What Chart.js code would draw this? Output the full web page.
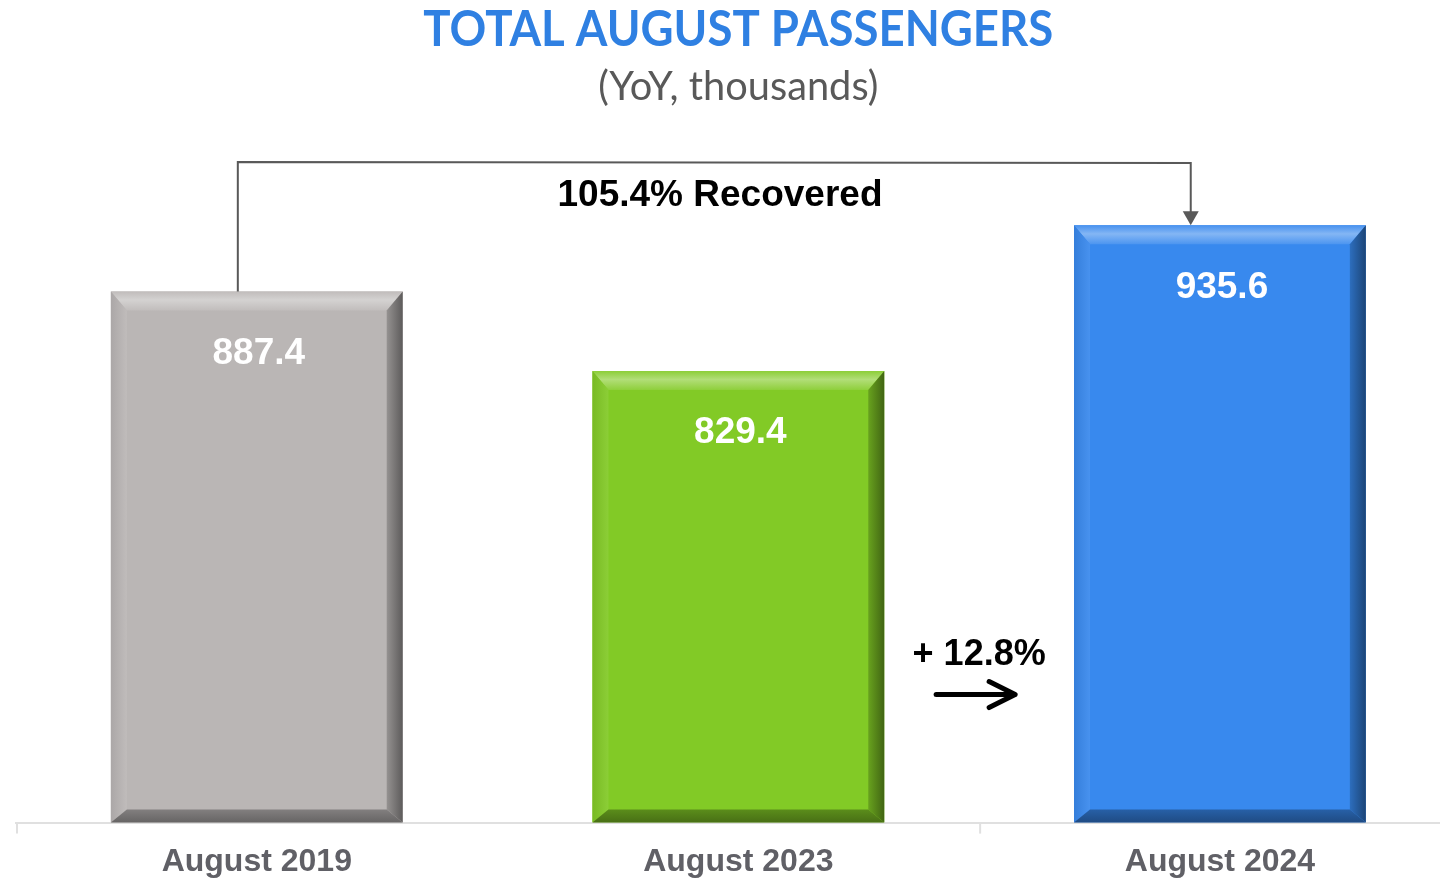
<!DOCTYPE html>
<html><head><meta charset="utf-8">
<script src="https://cdn.jsdelivr.net/npm/chart.js@4/dist/chart.umd.min.js"></script>
<style>html,body{margin:0;padding:0;background:#fff;overflow:hidden}#wrap{width:1440px;height:881px;position:relative}</style>
</head><body><div id="wrap"><canvas id="c" width="1440" height="881"></canvas></div>
<script>
const categories = ['August 2019', 'August 2023', 'August 2024'];
const passengers = [887.4, 829.4, 935.6];
const barColors = ['#bab6b5', '#82ca26', '#3889ee'];
const titleText = 'TOTAL AUGUST PASSENGERS';
const subtitleText = '(YoY, thousands)';
const yRange = [500, 1000];

function hexToRgb(h){h=h.replace('#','');return [parseInt(h.substr(0,2),16),parseInt(h.substr(2,2),16),parseInt(h.substr(4,2),16)];}
function mix(c, target, f){const a=hexToRgb(c);return 'rgb('+a.map((v,i)=>Math.round(v+(target[i]-v)*f)).join(',')+')';}
const lighten=(c,f)=>mix(c,[255,255,255],f);
const darken=(c,f)=>mix(c,[0,0,0],f);

const recovered = (passengers[2] / passengers[0] * 100).toFixed(1);
const growth = ((passengers[2] / passengers[1] - 1) * 100).toFixed(1);

const decorPlugin = {
  id: 'decor',
  afterDatasetsDraw(chart) {
    const ctx = chart.ctx;
    const meta = chart.getDatasetMeta(0);
    const xs = chart.scales.x;
    const area = chart.chartArea;
    ctx.save();
    meta.data.forEach((bar, i) => {
      const base = barColors[i];
      const L = bar.x - bar.width / 2, R = bar.x + bar.width / 2, T = bar.y, B = Math.min(bar.base, area.bottom);
      const b = 16, bt = 19, bb = 13;
      let g = ctx.createLinearGradient(0, T, 0, T + bt);
      g.addColorStop(0, lighten(base, 0.08));
      g.addColorStop(0.45, lighten(base, 0.38));
      g.addColorStop(1, lighten(base, 0.1));
      ctx.fillStyle = g;
      ctx.beginPath(); ctx.moveTo(L, T); ctx.lineTo(R, T); ctx.lineTo(R - b, T + bt); ctx.lineTo(L + b, T + bt); ctx.closePath(); ctx.fill();
      g = ctx.createLinearGradient(L, 0, L + b, 0);
      g.addColorStop(0, darken(base, 0.08));
      g.addColorStop(1, lighten(base, 0.08));
      ctx.fillStyle = g;
      ctx.beginPath(); ctx.moveTo(L, T); ctx.lineTo(L + b, T + bt); ctx.lineTo(L + b, B - bb); ctx.lineTo(L, B); ctx.closePath(); ctx.fill();
      g = ctx.createLinearGradient(R - b, 0, R, 0);
      g.addColorStop(0, darken(base, 0.2));
      g.addColorStop(1, darken(base, 0.5));
      ctx.fillStyle = g;
      ctx.beginPath(); ctx.moveTo(R, T); ctx.lineTo(R, B); ctx.lineTo(R - b, B - bb); ctx.lineTo(R - b, T + bt); ctx.closePath(); ctx.fill();
      g = ctx.createLinearGradient(0, B - bb, 0, B);
      g.addColorStop(0, darken(base, 0.3));
      g.addColorStop(1, darken(base, 0.45));
      ctx.fillStyle = g;
      ctx.beginPath(); ctx.moveTo(L, B); ctx.lineTo(L + b, B - bb); ctx.lineTo(R - b, B - bb); ctx.lineTo(R, B); ctx.closePath(); ctx.fill();
      ctx.fillStyle = '#ffffff';
      ctx.font = 'bold 37px "Liberation Sans", Arial, sans-serif';
      ctx.textAlign = 'center';
      ctx.textBaseline = 'middle';
      ctx.fillText(passengers[i].toFixed(1), bar.x + 2, bar.y + 62);
    });

    ctx.strokeStyle = '#e0e0e0';
    ctx.lineWidth = 2;
    [-0.5, 1.5].forEach(v => {
      const x = xs.getPixelForValue(v) + 1;
      ctx.beginPath(); ctx.moveTo(x, area.bottom + 1); ctx.lineTo(x, area.bottom + 11); ctx.stroke();
    });

    const b0 = meta.data[0], b2 = meta.data[2];
    const x0 = b0.x - b0.width * 0.065, x1 = b2.x - b2.width * 0.1;
    const yTop = area.top + 25;
    ctx.strokeStyle = '#595959';
    ctx.lineWidth = 2;
    ctx.beginPath();
    ctx.moveTo(x0, b0.y); ctx.lineTo(x0, yTop); ctx.lineTo(x1, yTop + 1); ctx.lineTo(x1, b2.y - 12);
    ctx.stroke();
    ctx.fillStyle = '#595959';
    ctx.beginPath(); ctx.moveTo(x1 - 8, b2.y - 14); ctx.lineTo(x1 + 8, b2.y - 14); ctx.lineTo(x1, b2.y); ctx.closePath(); ctx.fill();

    ctx.fillStyle = '#000000';
    ctx.font = 'bold 37px "Liberation Sans", Arial, sans-serif';
    ctx.textAlign = 'center';
    ctx.textBaseline = 'alphabetic';
    ctx.fillText(recovered + '% Recovered', chart.width / 2, yTop + 44);

    const gx = xs.getPixelForValue(1.5);
    ctx.font = 'bold 36px "Liberation Sans", Arial, sans-serif';
    ctx.fillText('+ ' + growth + '%', gx, area.bottom - 158);
    const ay = area.bottom - 128;
    ctx.strokeStyle = '#000000';
    ctx.lineWidth = 5;
    ctx.lineCap = 'round';
    ctx.lineJoin = 'round';
    ctx.beginPath(); ctx.moveTo(gx - 43, ay); ctx.lineTo(gx + 35, ay); ctx.stroke();
    ctx.beginPath(); ctx.moveTo(gx + 10, ay - 13); ctx.lineTo(gx + 36, ay); ctx.lineTo(gx + 10, ay + 13); ctx.stroke();
    ctx.restore();
  },
  afterDraw(chart) {
    const ctx = chart.ctx;
    const cx = chart.scales.x.getPixelForValue(1);
    ctx.save();
    ctx.textAlign = 'center';
    ctx.textBaseline = 'alphabetic';
    ctx.fillStyle = '#2f80e2';
    ctx.font = 'bold 50px Lato, "Open Sans", sans-serif';
    ctx.fillText(titleText, cx, 46, 630);
    ctx.fillStyle = '#595959';
    ctx.font = '40px Lato, "Open Sans", sans-serif';
    ctx.fillText(subtitleText, cx, 100, 280);
    ctx.restore();
  }
};

new Chart(document.getElementById('c'), {
  type: 'bar',
  data: {
    datasets: [{
      data: passengers.map((v, i) => ({ x: i, y: v })),
      base: yRange[0],
      backgroundColor: barColors,
      borderWidth: 0,
      barPercentage: 0.606,
      categoryPercentage: 1
    }]
  },
  options: {
    responsive: false,
    devicePixelRatio: 1,
    animation: false,
    layout: { padding: { top: 137, left: 16, right: 0, bottom: 0 } },
    plugins: { legend: { display: false }, tooltip: { enabled: false } },
    scales: {
      x: {
        type: 'linear',
        min: -0.5,
        max: 2.457,
        offset: false,
        afterBuildTicks: s => { s.ticks = categories.map((_, i) => ({ value: i })); },
        afterFit: s => { s.height = 58.4; },
        ticks: {
          callback: v => categories[v] ?? '',
          font: { family: '"Liberation Sans", Arial, sans-serif', weight: 'bold', size: 32, lineHeight: 1.2 },
          color: '#606066',
          padding: 20,
          maxRotation: 0,
          autoSkip: false
        },
        grid: { display: false, drawTicks: false },
        border: { display: true, color: '#e0e0e0', width: 2 }
      },
      y: { display: false, min: yRange[0], max: yRange[1] }
    }
  },
  plugins: [decorPlugin]
});
</script>
</body></html>
